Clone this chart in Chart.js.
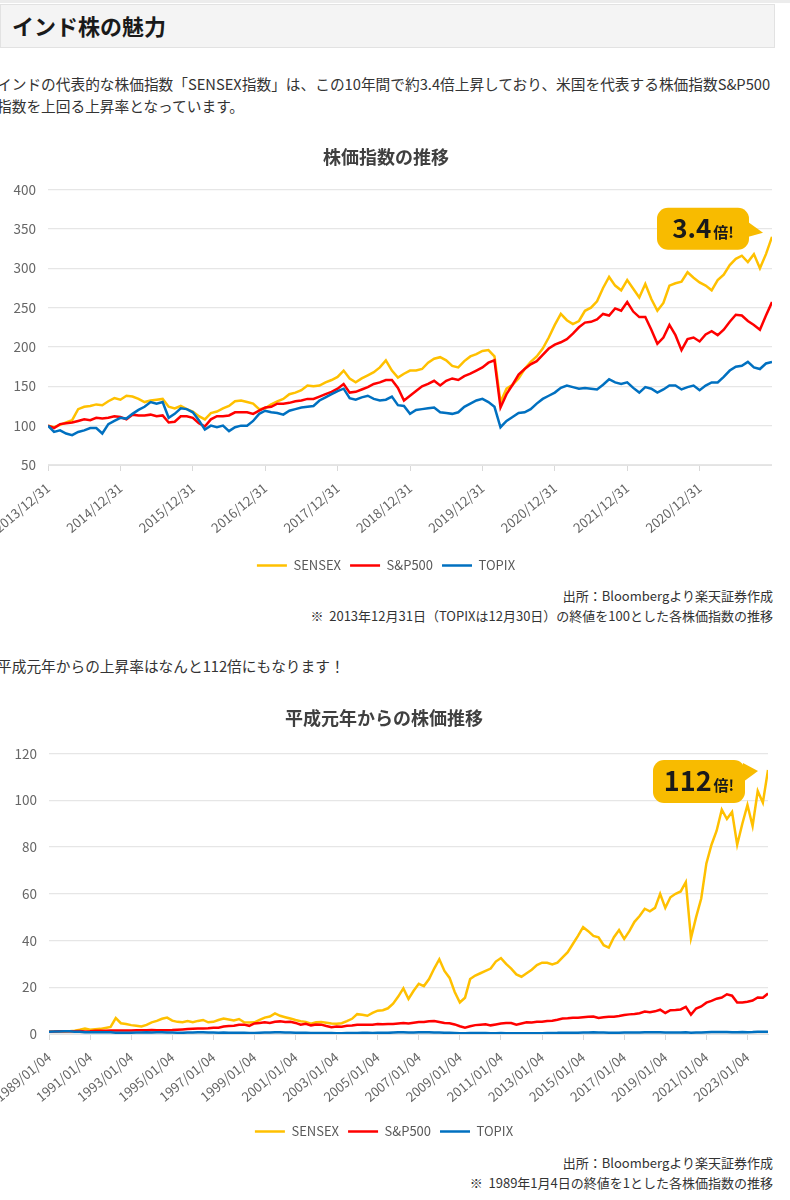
<!DOCTYPE html>
<html lang="ja">
<head>
<meta charset="utf-8">
<title>インド株の魅力</title>
<script src="https://cdn.jsdelivr.net/npm/chart.js@4.4.1/dist/chart.umd.min.js"></script>
<style>
  body { margin: 0; width: 790px; height: 1200px; position: relative; overflow: hidden; background: #fff;
         font-family: 'Noto Sans CJK JP', 'Noto Sans', sans-serif; color: #333; }
  .topline { position: absolute; left: 0; top: 0; width: 790px; height: 3px; background: #ececec; }
  .heading { position: absolute; left: 0; top: 4px; width: 775px; height: 44px; box-sizing: border-box;
             background: #f4f4f4; border: 1px solid #e2e2e2; padding-left: 11px;
             font-size: 22px; font-weight: bold; line-height: 41px; color: #1a1a1a; }
  .lead { position: absolute; left: -3px; width: 800px; font-size: 14.7px; line-height: 22px; color: #333; }
  .wrap { position: absolute; left: 0; width: 772px; }
  .note { position: absolute; right: 17px; font-size: 13px; line-height: 20px; text-align: right; color: #333; }
</style>
</head>
<body>
<div class="topline"></div>
<div class="heading">インド株の魅力</div>
<div class="lead" style="top:73px">インドの代表的な株価指数「SENSEX指数」は、この10年間で約3.4倍上昇しており、米国を代表する株価指数S&amp;P500<br>指数を上回る上昇率となっています。</div>

<div class="wrap" style="top:135px; height:447px"><canvas id="chart1"></canvas></div>
<div class="note" style="top:586px">出所：Bloombergより楽天証券作成<br>※&nbsp;&nbsp;2013年12月31日（TOPIXは12月30日）の終値を100とした各株価指数の推移</div>

<div class="lead" style="top:655px">平成元年からの上昇率はなんと112倍にもなります！</div>

<div class="wrap" style="top:696px; height:452px"><canvas id="chart2"></canvas></div>
<div class="note" style="top:1153px">出所：Bloombergより楽天証券作成<br>※&nbsp;&nbsp;1989年1月4日の終値を1とした各株価指数の推移</div>

<script>
// Fuente común para todo el gráfico.
const FONT = "'Noto Sans CJK JP', 'Noto Sans', sans-serif";

// Etiquetas del eje x (una por año).
const xLabels1 = ['2013/12/31', '2014/12/31', '2015/12/31', '2016/12/31', '2017/12/31',
    '2018/12/31', '2019/12/31', '2020/12/31', '2021/12/31', '2020/12/31'];
const xLabels2 = ['1989/01/04', '1991/01/04', '1993/01/04', '1995/01/04', '1997/01/04', '1999/01/04',
    '2001/01/04', '2003/01/04', '2005/01/04', '2007/01/04', '2009/01/04', '2011/01/04',
    '2013/01/04', '2015/01/04', '2017/01/04', '2019/01/04', '2021/01/04', '2023/01/04'];

// Gráfico 1: valores mensuales (2013/12 = 100).
const sensex1 = [
    100, 98, 101, 104, 107, 121, 124, 125, 127, 126, 131, 135,
    133, 138, 137, 134, 130, 132, 133, 134, 124, 122, 125, 121,
    118, 112, 108, 116, 118, 122, 125, 131, 132, 130, 128, 121,
    122, 127, 131, 134, 140, 142, 145, 151, 150, 151, 155, 158,
    162, 170, 160, 155, 160, 164, 168, 174, 183, 170, 161, 166,
    170, 170, 172, 180, 185, 187, 183, 176, 174, 182, 188, 191,
    195, 196, 188, 130, 147, 152, 160, 172, 181, 188, 198, 212,
    228, 242, 234, 229, 233, 246, 250, 258, 275, 289, 278, 272,
    285, 274, 263, 280, 261, 246, 256, 278, 281, 283, 295, 288,
    282, 278, 272, 285, 292, 304, 312, 316, 308, 318, 300, 318,
    340];
const sp1 = [
    100, 97, 102, 103, 104, 106, 108, 107, 110, 109, 110, 112,
    111, 108, 114, 113, 113, 114, 112, 113, 104, 105, 112, 112,
    110, 103, 99, 108, 112, 112, 113, 117, 117, 117, 115, 119,
    123, 124, 128, 128, 129, 131, 132, 134, 134, 137, 140, 143,
    147, 153, 142, 143, 146, 149, 153, 155, 158, 158, 148, 132,
    138, 144, 150, 153, 157, 151, 157, 160, 158, 163, 166, 170,
    174, 180, 183, 123, 140, 152, 165, 172, 178, 182, 190, 198,
    203, 206, 210, 217, 225, 231, 232, 235, 242, 240, 249, 246,
    257, 245, 238, 238, 222, 204, 212, 228, 215, 196, 210, 212,
    207, 216, 220, 215, 222, 232, 241, 240, 233, 228, 222, 240,
    257];
const topix1 = [
    100, 92, 94, 90, 88, 92, 94, 97, 97, 90, 102, 106,
    110, 109, 115, 120, 124, 130, 128, 130, 110, 115, 122, 121,
    117, 107, 95, 100, 98, 100, 93, 98, 100, 100, 106, 115,
    119, 117, 116, 114, 119, 121, 123, 124, 125, 132, 136, 140,
    144, 147, 135, 133, 136, 138, 134, 132, 133, 137, 126, 125,
    115, 120, 121, 122, 123, 117, 116, 115, 117, 124, 128, 132,
    134, 130, 124, 98, 106, 111, 116, 117, 121, 128, 134, 138,
    142, 148, 151, 149, 147, 148, 147, 146, 152, 159, 155, 153,
    155, 148, 142, 149, 147, 142, 146, 151, 151, 146, 149, 151,
    145, 151, 155, 155, 162, 170, 175, 176, 181, 174, 172, 179,
    181];

// Gráfico 2: valores trimestrales (1989/01/04 = 1).
const sensex2 = [
    1.0, 1.1, 1.2, 1.1,  1.2, 1.4, 1.8, 2.3,  1.8, 2.0, 2.2, 2.6,  3.0, 6.8, 4.6, 4.3,
    3.8, 3.5, 3.2, 3.9,  5.0, 5.6, 6.5, 7.0,  5.7, 5.2, 5.0, 5.5,  5.0, 5.6, 6.0, 5.0,
    5.2, 6.0, 6.6, 6.2,  5.8, 6.4, 5.0, 4.9,  5.0, 6.0, 7.0, 7.5,  8.8, 7.8, 7.2, 6.6,
    6.0, 5.5, 5.2, 4.4,  5.0, 5.1, 4.8, 4.5,  4.4, 4.6, 5.5, 6.5,  8.5, 8.2, 7.8, 9.0,
    10.0, 10.2, 11.0, 13.0,  16.0, 19.5, 15.0, 18.5,  21.5, 20.5, 23.5, 28.0,  32.0, 27.0, 24.0, 18.0,
    13.5, 15.5, 23.5, 25.0,  26.0, 27.0, 28.0, 31.0,  32.5, 30.0, 28.0, 25.5,  24.5, 26.0, 27.5, 29.5,
    30.5, 30.5, 29.8, 30.5,  32.8, 35.0, 38.5, 42.0,  45.7, 44.0, 42.0, 41.4,  38.0, 37.0, 41.4, 44.5,
    40.7, 44.0, 48.0, 50.5,  53.6, 52.5, 54.0, 60.0,  54.0, 58.5, 60.0, 61.0,  65.0, 41.0, 50.0, 58.0,
    73.0, 81.0, 87.0, 96.0,  92.0, 95.0, 81.0, 90.0,  98.0, 89.0, 104.0, 99.0,
    113.0];
const sp2 = [
    1.00, 1.04, 1.16, 1.22,  1.22, 1.20, 1.27, 1.12,  1.18, 1.35, 1.36, 1.40,  1.48, 1.45, 1.48, 1.50,
    1.55, 1.62, 1.61, 1.65,  1.68, 1.60, 1.60, 1.65,  1.66, 1.80, 1.95, 2.10,  2.22, 2.32, 2.40, 2.45,
    2.68, 2.65, 3.20, 3.40,  3.50, 3.95, 4.00, 3.50,  4.50, 4.75, 5.00, 4.70,  5.20, 5.40, 5.10, 5.20,
    4.75, 4.00, 4.40, 3.70,  4.10, 4.00, 3.40, 2.90,  3.20, 3.10, 3.55, 3.60,  4.00, 4.00, 4.00, 4.00,
    4.30, 4.20, 4.30, 4.30,  4.50, 4.70, 4.50, 4.80,  5.10, 5.10, 5.50, 5.55,  5.10, 4.70, 4.60, 4.10,
    3.30, 2.70, 3.30, 3.80,  4.00, 4.20, 3.70, 4.10,  4.50, 4.70, 4.70, 4.00,  4.50, 5.00, 4.90, 5.20,
    5.20, 5.60, 5.70, 6.10,  6.60, 6.70, 7.00, 7.00,  7.20, 7.40, 7.50, 6.90,  7.20, 7.40, 7.40, 7.70,
    8.10, 8.40, 8.60, 8.90,  9.60, 9.30, 9.70, 10.4,  9.00, 10.2, 10.3, 10.5,  11.6, 8.30, 10.9, 11.8,
    13.4, 14.2, 15.1, 15.6,  17.0, 16.4, 13.5, 13.5,  13.8, 14.3, 15.6, 15.5,
    17.3];
const topix2 = [
    1.00, 1.03, 1.10, 1.15,  1.18, 0.98, 1.00, 0.75,  0.72, 0.80, 0.77, 0.75,  0.70, 0.58, 0.53, 0.55,
    0.55, 0.65, 0.68, 0.70,  0.63, 0.70, 0.71, 0.68,  0.66, 0.54, 0.52, 0.59,  0.67, 0.70, 0.70, 0.66,
    0.62, 0.55, 0.62, 0.58,  0.50, 0.52, 0.50, 0.46,  0.46, 0.55, 0.62, 0.65,  0.73, 0.70, 0.65, 0.60,
    0.54, 0.52, 0.55, 0.45,  0.44, 0.45, 0.42, 0.38,  0.36, 0.33, 0.38, 0.43,  0.44, 0.49, 0.50, 0.47,
    0.49, 0.50, 0.50, 0.60,  0.70, 0.72, 0.67, 0.68,  0.71, 0.72, 0.75, 0.68,  0.62, 0.53, 0.55, 0.45,
    0.37, 0.33, 0.40, 0.39,  0.38, 0.41, 0.36, 0.35,  0.38, 0.37, 0.36, 0.33,  0.31, 0.36, 0.32, 0.31,
    0.36, 0.44, 0.48, 0.49,  0.55, 0.50, 0.54, 0.54,  0.60, 0.66, 0.71, 0.60,  0.66, 0.56, 0.54, 0.55,
    0.65, 0.67, 0.68, 0.69,  0.77, 0.72, 0.74, 0.72,  0.63, 0.69, 0.66, 0.66,  0.73, 0.55, 0.66, 0.68,
    0.77, 0.83, 0.82, 0.85,  0.85, 0.80, 0.79, 0.82,  0.80, 0.85, 0.95, 0.98,
    1.00];

const COLORS = { sensex: '#FFC000', sp: '#FF0000', topix: '#0070C0' };

Chart.defaults.font.family = FONT;
Chart.defaults.color = '#666';

/*
*   Serie de líneas a partir de un arreglo (x = índice del periodo).
*/
const lineSet = (label, values, color, order) => {
    return {
        label: label,
        order: order,
        data: values.map((v, i) => ({ x: i, y: v })),
        borderColor: color,
        backgroundColor: color,
        borderWidth: 2.5,
        pointRadius: 0,
        tension: 0
    };
}

/*
*   Plugin para dibujar el globo "○倍!" junto al último punto de SENSEX.
*/
const calloutPlugin = {
    id: 'callout',
    afterDatasetsDraw(chart, args, opts) {
        const meta = chart.getDatasetMeta(0);
        const last = meta.data[meta.data.length - 1];
        const ctx = chart.ctx;
        const x = last.x, y = last.y;
        const [bx, by, bw, bh] = [x + opts.box[0], y + opts.box[1], opts.box[2], opts.box[3]];
        ctx.save();
        ctx.fillStyle = '#F8BB00';
        ctx.beginPath();
        ctx.roundRect(bx, by, bw, bh, 11);
        ctx.fill();
        ctx.beginPath();
        ctx.moveTo(x + opts.tail[0][0], y + opts.tail[0][1]);
        ctx.lineTo(x + opts.tail[1][0], y + opts.tail[1][1]);
        ctx.lineTo(x + opts.tail[2][0], y + opts.tail[2][1]);
        ctx.closePath();
        ctx.fill();
        ctx.fillStyle = '#1a1a1a';
        ctx.textBaseline = 'alphabetic';
        ctx.textAlign = 'left';
        ctx.font = `bold ${opts.bigSize}px ${FONT}`;
        const w1 = ctx.measureText(opts.big).width;
        ctx.font = `bold ${opts.smallSize}px ${FONT}`;
        const w2 = ctx.measureText(opts.small).width;
        const tx = bx + (bw - w1 - w2 - 2) / 2;
        const ty = by + bh / 2 + opts.baseline;
        ctx.font = `bold ${opts.bigSize}px ${FONT}`;
        ctx.fillText(opts.big, tx, ty);
        ctx.font = `bold ${opts.smallSize}px ${FONT}`;
        ctx.fillText(opts.small, tx + w1 + 2, ty);
        ctx.restore();
    }
};

/*
*   Genera un gráfico de líneas con el estilo de la imagen.
*/
const lineGraph = (canvas, title, sets, xCfg, yCfg, callout) => {
    const context = document.getElementById(canvas).getContext('2d');
    return new Chart(context, {
        type: 'line',
        data: { datasets: sets },
        plugins: [calloutPlugin],
        options: {
            responsive: true,
            maintainAspectRatio: false,
            animation: false,
            normalized: true,
            layout: { padding: { left: 0, right: xCfg.padRight, top: 0, bottom: 0 } },
            plugins: {
                tooltip: { enabled: false },
                title: {
                    display: true,
                    text: title,
                    color: '#404040',
                    font: { size: 18, weight: 'bold' },
                    padding: { top: 11, bottom: yCfg.titleGap }
                },
                legend: {
                    position: 'bottom',
                    labels: {
                        usePointStyle: true,
                        pointStyle: 'line',
                        pointStyleWidth: 30,
                        color: '#595959',
                        font: { size: 13 },
                        padding: 9,
                        sort: (a, b) => a.datasetIndex - b.datasetIndex
                    }
                },
                callout: callout
            },
            scales: {
                x: {
                    type: 'linear',
                    min: 0,
                    max: xCfg.max,
                    // Altura fija y sin margen lateral para las etiquetas giradas.
                    afterFit: (scale) => {
                        scale.height = xCfg.height;
                        scale.paddingLeft = 0;
                        scale.paddingRight = 0;
                    },
                    ticks: {
                        stepSize: xCfg.step,
                        includeBounds: false,
                        autoSkip: false,
                        minRotation: 40,
                        maxRotation: 40,
                        padding: 9,
                        color: '#666',
                        font: { size: 13 },
                        callback: (value) => xCfg.labels[value / xCfg.step] ?? ''
                    },
                    grid: { drawOnChartArea: false, drawTicks: true, tickLength: 6, color: '#d9d9d9' },
                    border: { display: true, color: '#e3e3e3' }
                },
                y: {
                    min: yCfg.min,
                    max: yCfg.max,
                    afterFit: (scale) => { scale.width = yCfg.width; },
                    ticks: { stepSize: yCfg.step, padding: 12, color: '#666', font: { size: 13.5 } },
                    grid: { color: '#e6e6e6', lineWidth: 1.2, drawTicks: false },
                    border: { display: false }
                }
            }
        }
    });
}

lineGraph('chart1', '株価指数の推移', [
    lineSet('SENSEX', sensex1, COLORS.sensex, 3),
    lineSet('S&P500', sp1, COLORS.sp, 2),
    lineSet('TOPIX', topix1, COLORS.topix, 1)
], { max: 120, step: 12, labels: xLabels1, height: 85, padRight: 0 },
   { min: 50, max: 400, step: 50, width: 48, titleGap: 22 },
   { big: '3.4', small: '倍!', box: [-115, -29, 92, 42], tail: [[-27, -17], [-9, -4], [-27, 1]], bigSize: 26, smallSize: 15, baseline: 9.5 });

lineGraph('chart2', '平成元年からの株価推移', [
    lineSet('SENSEX', sensex2, COLORS.sensex, 3),
    lineSet('S&P500', sp2, COLORS.sp, 2),
    lineSet('TOPIX', topix2, COLORS.topix, 1)
], { max: 140, step: 8, labels: xLabels2, height: 82, padRight: 4 },
   { min: 0, max: 120, step: 20, width: 49, titleGap: 25 },
   { big: '112', small: '倍!', box: [-115, -10, 92, 43], tail: [[-25, -7], [-10, 1], [-25, 12]], bigSize: 27, smallSize: 15, baseline: 10 });
</script>
</body>
</html>
